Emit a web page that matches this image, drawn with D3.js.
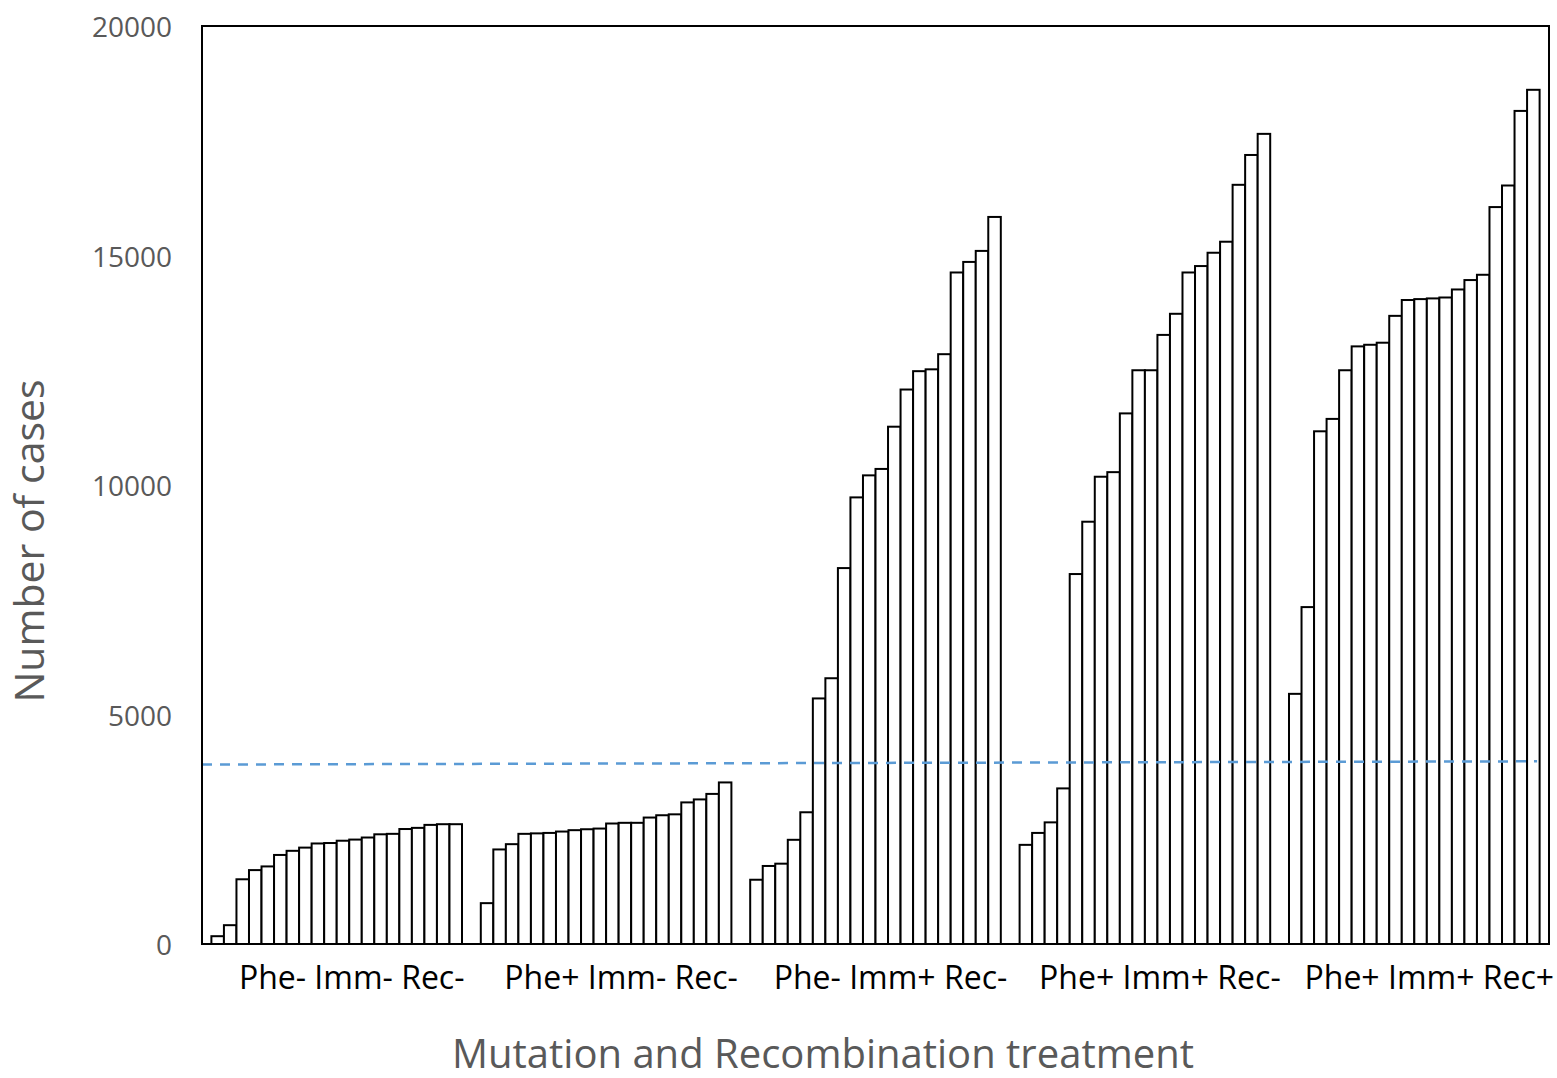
<!DOCTYPE html>
<html>
<head>
    <meta charset="UTF-8">
    <title>Number of cases by treatment</title>
    <script src="https://d3js.org/d3.v7.min.js"></script>
    <style>
    body { margin: 0; background: #fff; }
    svg { display: block; }
    .tick text { font-family: "Open Sans", sans-serif; }
    </style>
</head>
<body>
<div id="chart"></div>
<script>

// categories on the x axis
let categories = ["Phe- Imm- Rec-", "Phe+ Imm- Rec-", "Phe- Imm+ Rec-", "Phe+ Imm+ Rec-", "Phe+ Imm+ Rec+"];

// 20 sorted replicate values per treatment
let pheMinusImmMinusRecMinus = [170, 410, 1410, 1610, 1690, 1940, 2030, 2100, 2190, 2200, 2250, 2275, 2320, 2390, 2400, 2505, 2530, 2595, 2610, 2610];
let phePlusImmMinusRecMinus  = [890, 2060, 2175, 2400, 2410, 2420, 2450, 2480, 2500, 2515, 2625, 2640, 2640, 2755, 2805, 2825, 3085, 3150, 3270, 3520];
let pheMinusImmPlusRecMinus  = [1400, 1700, 1750, 2270, 2870, 5350, 5790, 8190, 9730, 10210, 10350, 11270, 12080, 12480, 12520, 12850, 14630, 14860, 15100, 15840];
let phePlusImmPlusRecMinus   = [2160, 2420, 2650, 3390, 8060, 9200, 10180, 10280, 11560, 12500, 12500, 13270, 13730, 14630, 14770, 15060, 15300, 16540, 17190, 17650];
let phePlusImmPlusRecPlus    = [5450, 7340, 11170, 11440, 12500, 13020, 13055, 13100, 13685, 14030, 14050, 14065, 14085, 14260, 14465, 14580, 16055, 16525, 18150, 18610];

let groups = [pheMinusImmMinusRecMinus, phePlusImmMinusRecMinus, pheMinusImmPlusRecMinus, phePlusImmPlusRecMinus, phePlusImmPlusRecPlus];

// y axis ticks and the dashed reference line (start and end value)
let yTicks = [0, 5000, 10000, 15000, 20000];
let referenceLine = [3910, 3980];

let width = 1557, height = 1078;
let margin = {top: 26, right: 8, bottom: 134, left: 202};

let svg = d3.select("#chart").append("svg")
    .attr("width", width)
    .attr("height", height);

let x = d3.scaleBand()
    .domain(categories)
    .range([margin.left, width - margin.right]);

// bars inside each category, excel style gap width of 150%
let xSub = d3.scaleBand()
    .domain(d3.range(20))
    .range([0, x.bandwidth()])
    .paddingInner(0)
    .paddingOuter(0.75);

let y = d3.scaleLinear()
    .domain([0, 20000])
    .range([height - margin.bottom, margin.top]);

// bars
let bars = [];
groups.forEach((vals, gi) => {
    vals.forEach((v, i) => bars.push({cat: categories[gi], i: i, value: v}));
});

svg.append("g")
    .attr("id", "bars")
    .selectAll("rect")
    .data(bars)
    .enter()
    .append("rect")
    .attr("x", d => x(d.cat) + xSub(d.i))
    .attr("y", d => y(d.value))
    .attr("width", xSub.bandwidth())
    .attr("height", d => y(0) - y(d.value))
    .attr("fill", "#fff")
    .attr("stroke", "#000")
    .attr("stroke-width", 2);

// dashed reference line, from the axis to the last bar
let lastCat = categories[categories.length - 1];
let lineX = [x.range()[0], x(lastCat) + xSub(19) + xSub.bandwidth() * 0.8];

svg.append("line")
    .attr("x1", lineX[0])
    .attr("x2", lineX[1])
    .attr("y1", y(referenceLine[0]))
    .attr("y2", y(referenceLine[1]))
    .attr("stroke", "#5B9BD5")
    .attr("stroke-width", 2.5)
    .attr("stroke-dasharray", "10,8");

// plot area border
svg.append("rect")
    .attr("x", x.range()[0])
    .attr("y", y(20000))
    .attr("width", x.range()[1] - x.range()[0])
    .attr("height", y(0) - y(20000))
    .attr("fill", "none")
    .attr("stroke", "#000")
    .attr("stroke-width", 2);

// y axis labels
let yAxis = svg.append("g")
    .attr("transform", "translate(" + margin.left + ",0)")
    .call(d3.axisLeft(y).tickValues(yTicks).tickSize(0).tickPadding(30).tickFormat(d3.format("d")));
yAxis.select(".domain").remove();
yAxis.selectAll("text")
    .attr("dy", "0.38em")
    .attr("font-size", 28)
    .attr("fill", "#595959");

// category labels
svg.append("g")
    .selectAll("text")
    .data(categories)
    .enter()
    .append("text")
    .attr("x", d => x(d) + x.bandwidth() / 2 + 15)
    .attr("y", 989)
    .attr("text-anchor", "middle")
    .attr("font-family", "Open Sans, sans-serif")
    .attr("font-size", 32)
    .attr("fill", "#000")
    .text(d => d);

// axis titles
svg.append("text")
    .attr("x", 823)
    .attr("y", 1068)
    .attr("text-anchor", "middle")
    .attr("font-family", "Open Sans, sans-serif")
    .attr("font-size", 40)
    .attr("fill", "#595959")
    .text("Mutation and Recombination treatment");

svg.append("text")
    .attr("transform", "translate(44,541) rotate(-90)")
    .attr("text-anchor", "middle")
    .attr("font-family", "Open Sans, sans-serif")
    .attr("font-size", 41)
    .attr("fill", "#595959")
    .text("Number of cases");

</script>
</body>
</html>
